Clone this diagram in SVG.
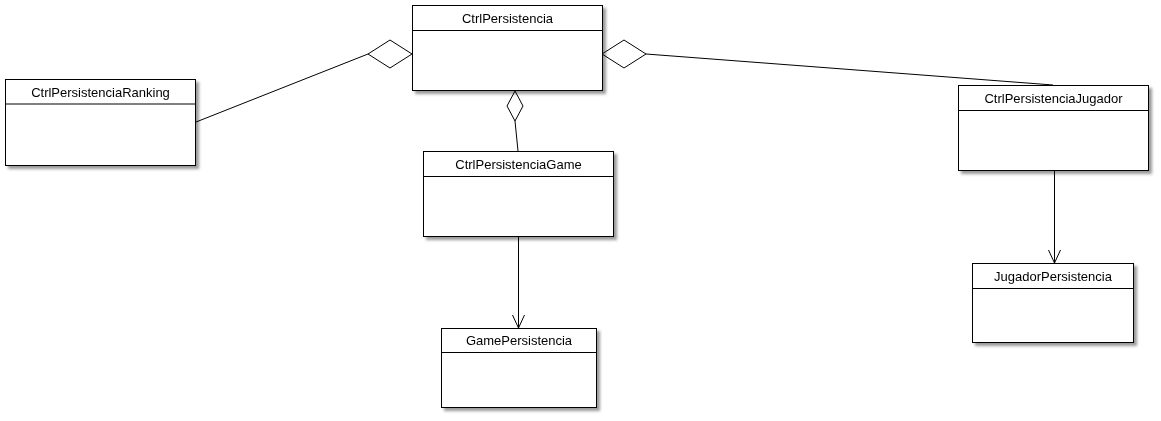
<svg xmlns="http://www.w3.org/2000/svg" width="1161" height="421" viewBox="0 0 1161 421">
<style>
.box{fill:#ffffff;stroke:#000000;stroke-width:1}
.sep{stroke:#000000;stroke-width:1;fill:none}
.lbl{font-family:"Liberation Sans",Arial,sans-serif;font-size:13px;fill:#000000;text-anchor:middle}
.edge{stroke:#000000;stroke-width:1;fill:none}
.dia{fill:#ffffff;stroke:#000000;stroke-width:1}
</style>
<defs>
<filter id="sh" x="-10%" y="-10%" width="130%" height="140%">
<feDropShadow dx="3" dy="3" stdDeviation="1.8" flood-color="#000000" flood-opacity="0.4"/>
</filter>
<marker id="open" markerWidth="14" markerHeight="16" refX="13" refY="6" orient="auto" markerUnits="userSpaceOnUse">
<path d="M0,0 L13,6 L0,12" fill="none" stroke="#000000" stroke-width="1"/>
</marker>
</defs>
<g id="connectors">
<path class="edge" d="M368,54 L196,122"/>
<path class="dia" d="M412,54 L390,40 L368,54 L390,68 Z"/>
<path class="edge" d="M646,54 L1053,85"/>
<path class="dia" d="M602,54 L624,40 L646,54 L624,68 Z"/>
<path class="edge" d="M515,121 L518,151"/>
<path class="dia" d="M515,91 L523,106 L515,121 L507,106 Z"/>
<path class="edge" d="M518.5,237 L518.5,328" marker-end="url(#open)"/>
<path class="edge" d="M1054.5,171 L1054.5,263" marker-end="url(#open)"/>
</g>
<g id="CtrlPersistencia" filter="url(#sh)">
<rect class="box" x="412.5" y="5.5" width="190" height="85"/>
<line class="sep" x1="412.5" y1="30.5" x2="602.5" y2="30.5"/>
<text class="lbl" x="507.5" y="22.5">CtrlPersistencia</text>
</g>
<g id="CtrlPersistenciaRanking" filter="url(#sh)">
<rect class="box" x="5.5" y="79.5" width="190" height="86"/>
<line class="sep" x1="5.5" y1="104" x2="195.5" y2="104"/>
<text class="lbl" x="100.5" y="96.5">CtrlPersistenciaRanking</text>
</g>
<g id="CtrlPersistenciaGame" filter="url(#sh)">
<rect class="box" x="423.5" y="151.5" width="190" height="85"/>
<line class="sep" x1="423.5" y1="176.5" x2="613.5" y2="176.5"/>
<text class="lbl" x="518.5" y="168.5">CtrlPersistenciaGame</text>
</g>
<g id="CtrlPersistenciaJugador" filter="url(#sh)">
<rect class="box" x="958.5" y="85.5" width="190" height="85"/>
<line class="sep" x1="958.5" y1="110.5" x2="1148.5" y2="110.5"/>
<text class="lbl" x="1053.5" y="102.5">CtrlPersistenciaJugador</text>
</g>
<g id="GamePersistencia" filter="url(#sh)">
<rect class="box" x="441.5" y="328.5" width="155" height="79"/>
<line class="sep" x1="441.5" y1="352.5" x2="596.5" y2="352.5"/>
<text class="lbl" x="519" y="345">GamePersistencia</text>
</g>
<g id="JugadorPersistencia" filter="url(#sh)">
<rect class="box" x="972.5" y="263.5" width="161" height="79"/>
<line class="sep" x1="972.5" y1="288.5" x2="1133.5" y2="288.5"/>
<text class="lbl" x="1053" y="280.5">JugadorPersistencia</text>
</g>
</svg>
